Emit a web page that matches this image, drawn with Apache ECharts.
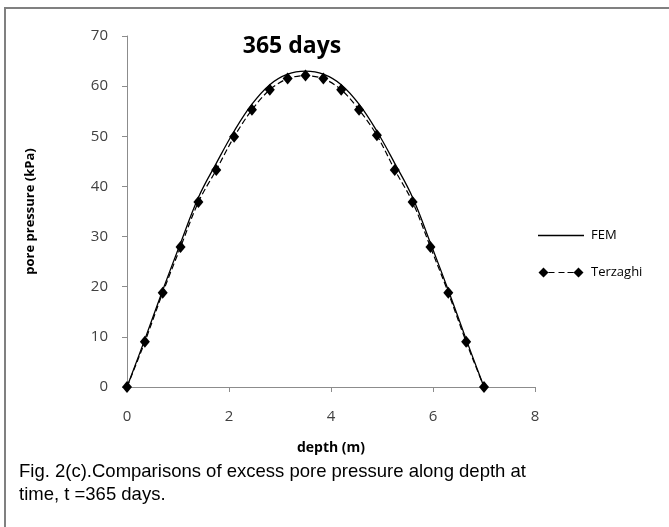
<!DOCTYPE html>
<html>
<head>
<meta charset="utf-8">
<script src="https://cdn.jsdelivr.net/npm/echarts@6/dist/echarts.min.js"></script>
<style>
    html, body { margin: 0; padding: 0; background: #fff; }
    #frame {
        position: absolute; left: 4px; top: 7px; width: 665px; height: 520px;
        border-top: 2px solid #808080; border-left: 2px solid #808080;
        box-sizing: border-box;
    }
    #chart { position: absolute; left: 0; top: 0; width: 669px; height: 460px; }
    #caption {
        position: absolute; left: 19px; top: 459px; width: 545px;
        font-family: "Liberation Sans", Arial, sans-serif; font-size: 18.5px;
        line-height: 23px; color: #000;
    }
</style>
</head>
<body>
<div id="frame"></div>
<div id="chart"></div>
<div id="caption">Fig. 2(c).Comparisons of excess pore pressure along depth at time, t =365 days.</div>
<script>
// depth (m) of the sample points
var depths = [0, 0.35, 0.7, 1.05, 1.4, 1.75, 2.1, 2.45, 2.8, 3.15, 3.5,
              3.85, 4.2, 4.55, 4.9, 5.25, 5.6, 5.95, 6.3, 6.65, 7.0];
// pore pressure (kPa)
var femValues = [0, 9.5, 19.3, 28.7, 37.8, 44.6, 51, 56.4, 60.3, 62.4, 63,
                 62.4, 60.3, 56.4, 51, 44.6, 37.8, 28.7, 19.3, 9.5, 0];
var terzaghiValues = [0, 9, 18.8, 27.9, 36.9, 43.3, 49.9, 55.3, 59.3, 61.5, 62.1,
                      61.5, 59.3, 55.3, 50.2, 43.3, 36.9, 27.9, 18.8, 9, 0];
var xTicks = [0, 2, 4, 6, 8];
var yTicks = [0, 10, 20, 30, 40, 50, 60, 70];

function pairs(xs, ys) {
    return xs.map(function (x, i) { return [x, ys[i]]; });
}

var chartFont = '"Open Sans", "DejaVu Sans", sans-serif';
var chart = echarts.init(document.getElementById("chart"));

var options = {
    animation: false,
    title: {
        text: '365 days',
        left: 287, top: 30,
        textAlign: 'center',
        textStyle: { fontFamily: chartFont, fontSize: 23, fontWeight: 'bold', color: '#000' }
    },
    grid: { left: 127, right: 134, top: 36, bottom: 73 },
    legend: {
        orient: 'vertical',
        left: 533, top: 224,
        itemWidth: 46, itemHeight: 10, itemGap: 24,
        textStyle: { fontFamily: chartFont, fontSize: 13, color: '#000', padding: [0, 0, 0, 2] },
        data: [
            { name: 'FEM', icon: 'path://M0,4.3 L50,4.3 L50,5.7 L0,5.7 Z' },
            { name: 'Terzaghi', icon: 'path://M5,0 L10,5 L5,10 L0,5 Z M40,0 L45,5 L40,10 L35,5 Z M10,4.4 L16,4.4 L16,5.6 L10,5.6 Z M20,4.4 L26,4.4 L26,5.6 L20,5.6 Z M29,4.4 L35,4.4 L35,5.6 L29,5.6 Z' }
        ]
    },
    xAxis: {
        type: 'value',
        min: xTicks[0], max: xTicks[xTicks.length - 1], interval: 2,
        name: 'depth (m)', nameLocation: 'middle', nameGap: 54,
        nameTextStyle: { fontFamily: chartFont, fontSize: 14, fontWeight: 'bold', color: '#000' },
        axisLine: { lineStyle: { color: '#8c8c8c', width: 1 } },
        axisTick: { show: true, length: 5, lineStyle: { color: '#8c8c8c' } },
        axisLabel: { fontFamily: chartFont, fontSize: 15, color: '#404040', margin: 22 },
        splitLine: { show: false }
    },
    yAxis: {
        type: 'value',
        min: yTicks[0], max: yTicks[yTicks.length - 1], interval: 10,
        name: 'pore pressure (kPa)', nameLocation: 'middle', nameGap: 90,
        nameTextStyle: { fontFamily: chartFont, fontSize: 13, fontWeight: 'bold', color: '#000' },
        axisLine: { show: true, lineStyle: { color: '#8c8c8c', width: 1 } },
        axisTick: { show: true, length: 5, lineStyle: { color: '#8c8c8c' } },
        axisLabel: { fontFamily: chartFont, fontSize: 15, color: '#404040', margin: 19 },
        splitLine: { show: false }
    },
    series: [
        {
            name: 'FEM',
            type: 'line',
            data: pairs(depths, femValues),
            smooth: 0.4,
            showSymbol: false,
            symbol: 'none',
            color: '#000',
            lineStyle: { color: '#000', width: 1.3 }
        },
        {
            name: 'Terzaghi',
            type: 'line',
            data: pairs(depths, terzaghiValues),
            smooth: 0.3,
            symbol: 'diamond',
            symbolSize: [10, 12],
            color: '#000',
            itemStyle: { color: '#000' },
            lineStyle: { color: '#000', width: 1.2, type: [6, 3] }
        }
    ]
};

chart.setOption(options);
</script>
</body>
</html>
